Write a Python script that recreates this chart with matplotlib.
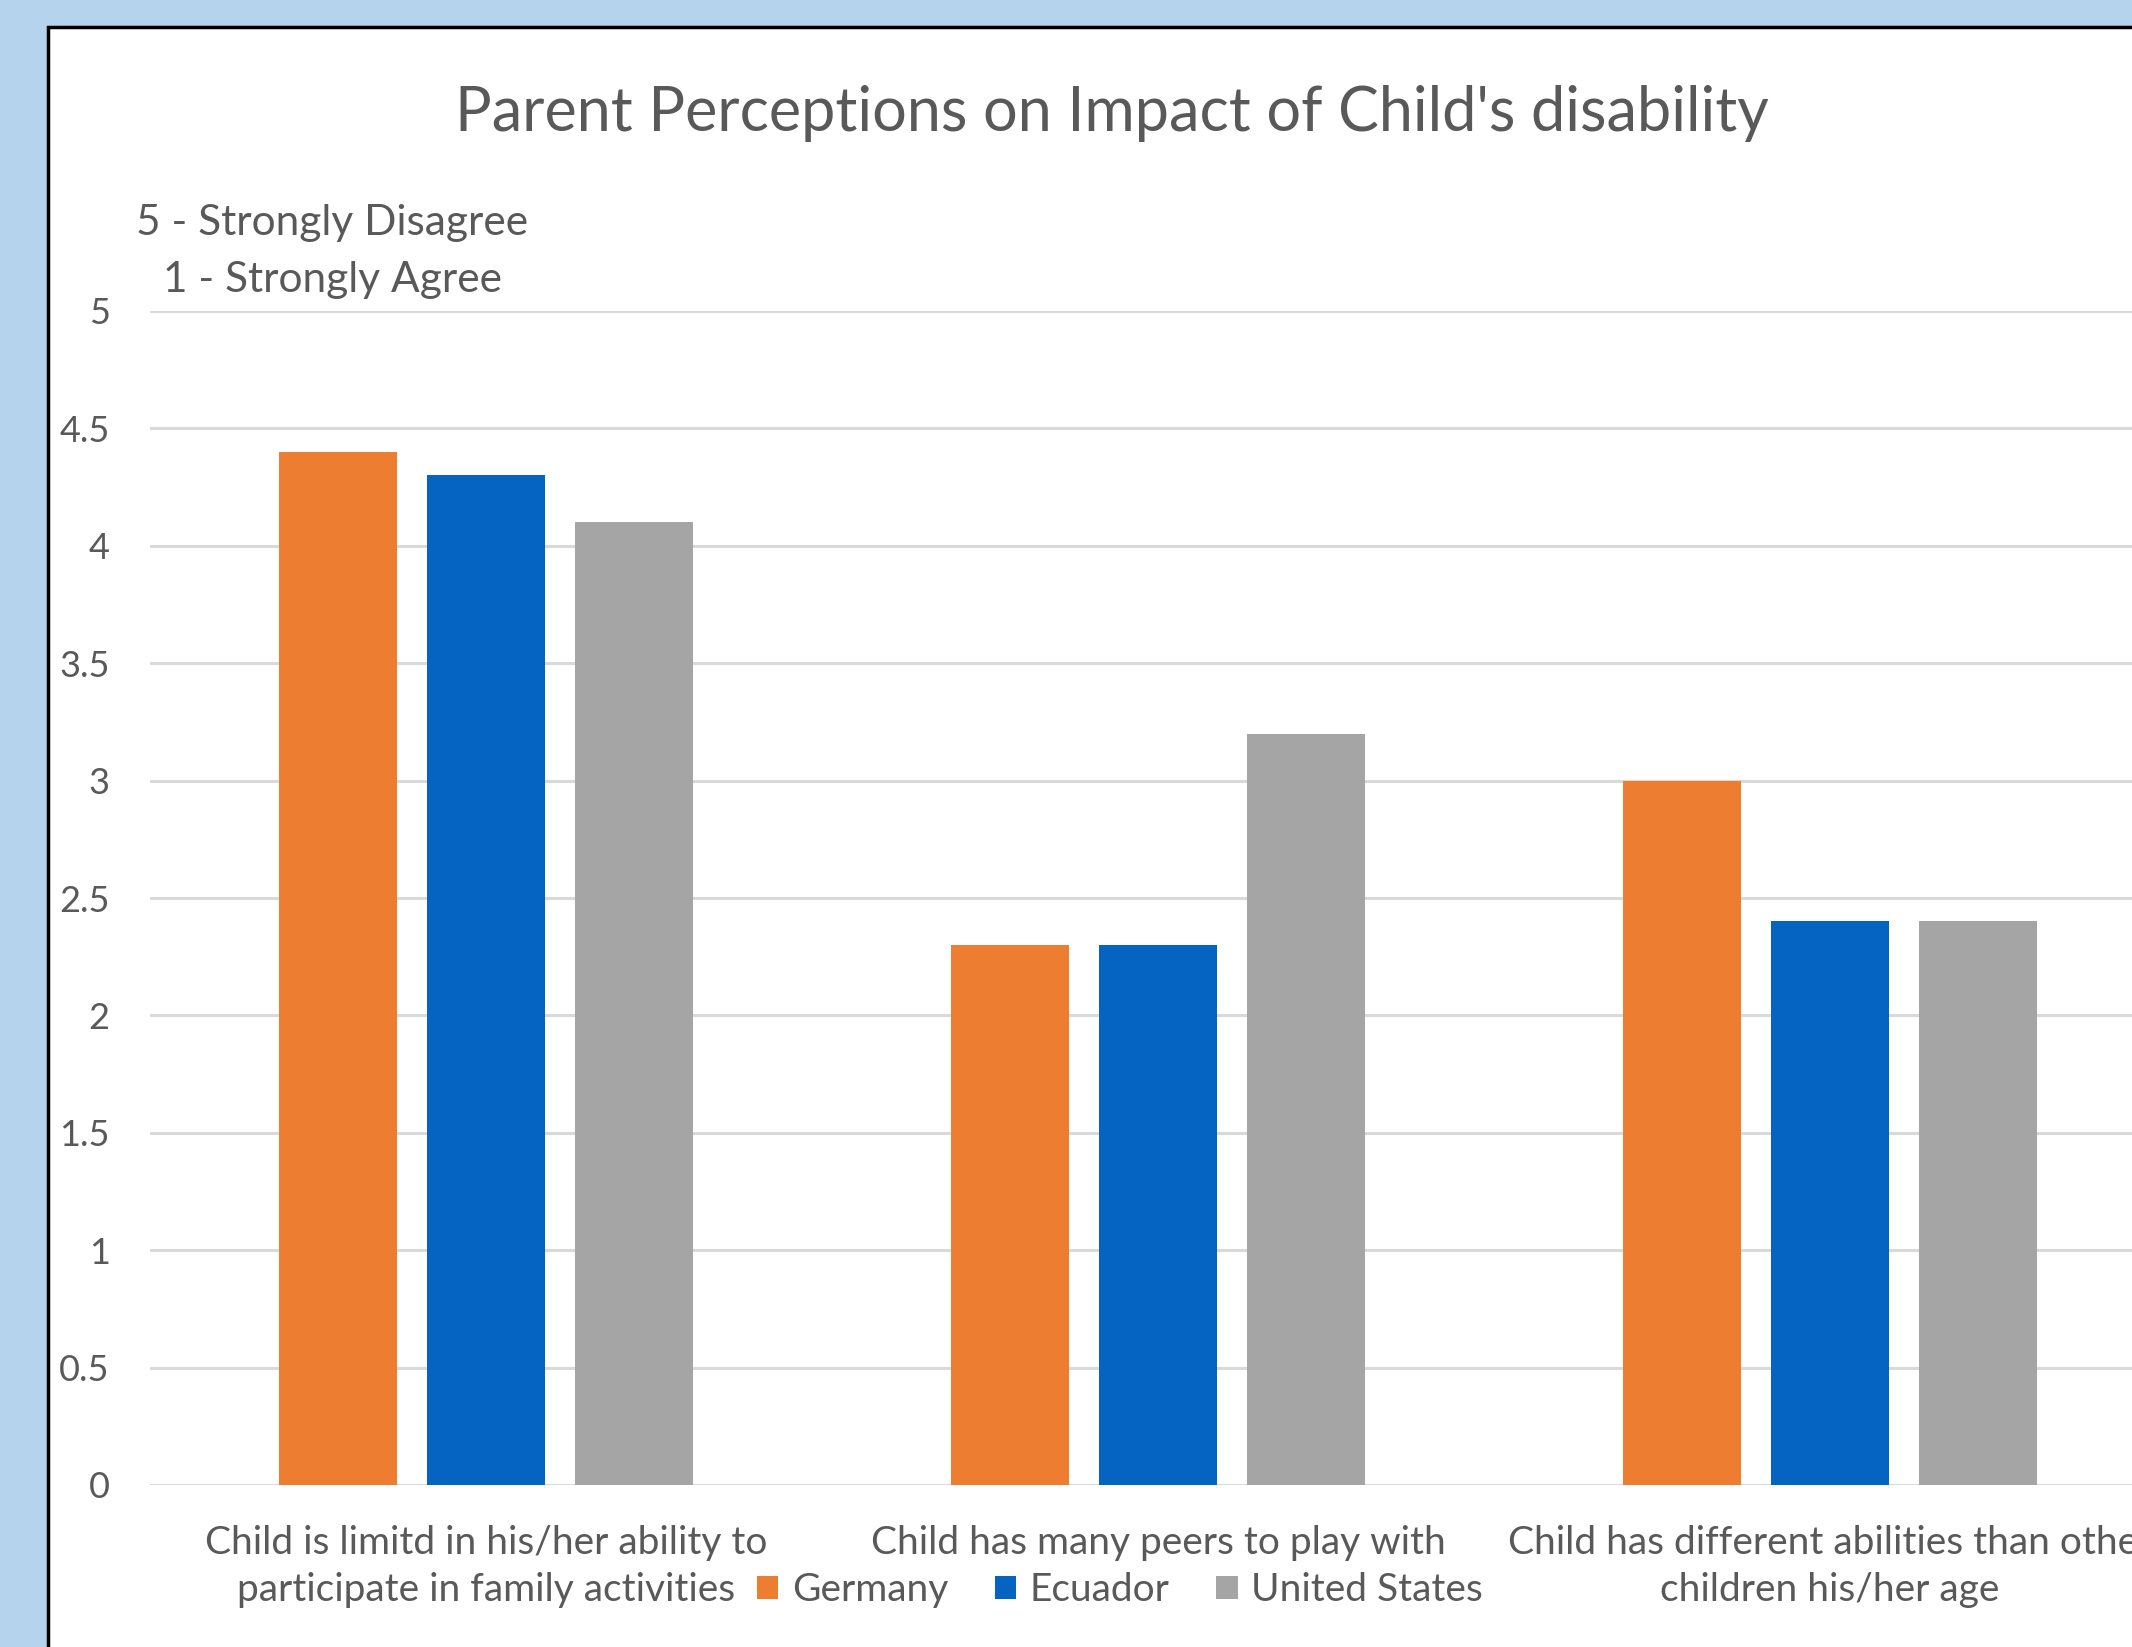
import numpy as np
import matplotlib.pyplot as plt
from matplotlib.patches import Rectangle, Patch

# dữ liệu
categories = [
    "Child is limitd in his/her ability to\nparticipate in family activities",
    "Child has many peers to play with",
    "Child has different abilities than other\nchildren his/her age",
]
countries = ["Germany", "Ecuador", "United States"]
germany = [4.4, 2.3, 3.0]
ecuador = [4.3, 2.3, 2.4]
united_states = [4.1, 3.2, 2.4]
colors = ["#ED7D31", "#0563C1", "#A5A5A5"]
yticks = [0, 0.5, 1, 1.5, 2, 2.5, 3, 3.5, 4, 4.5, 5]
ytick_labels = ["0", "0.5", "1", "1.5", "2", "2.5", "3", "3.5", "4", "4.5", "5"]

W, H = 2132, 1647
plt.rcParams['font.family'] = ['Lato', 'DejaVu Sans']
text_color = "#595959"

fig = plt.figure(figsize=(W / 100, H / 100), dpi=100)
fig.patch.set_facecolor("#B5D3EC")

# khung trắng của biểu đồ (bị cắt ở bên phải và bên dưới như ảnh gốc)
fig.patches.append(Rectangle((48 / W, -0.05), 1.2, 1 - 27 / H + 0.05,
                             transform=fig.transFigure, facecolor="white",
                             edgecolor="black", linewidth=2.5, zorder=-5))

ax = fig.add_axes([150 / W, (H - 1485) / H, 3 * 672 / W, (1485 - 311) / H])
ax.set_facecolor("none")

x = np.arange(len(categories))
width = 0.176
step = 0.22
for i, (vals, name) in enumerate(zip([germany, ecuador, united_states], countries)):
    ax.bar(x + (i - 1) * step, vals, width, color=colors[i], label=name, zorder=3)

ax.set_xlim(-0.5, 2.5)
ax.set_ylim(0, 5)
ax.set_yticks(yticks)
ax.set_yticklabels(ytick_labels)
ax.set_xticks(x)
ax.set_xticklabels(categories, linespacing=1.38)
ax.grid(axis="y", color="#D9D9D9", linewidth=2.2, zorder=0)
ax.set_axisbelow(True)
for s in ax.spines.values():
    s.set_visible(False)
ax.tick_params(axis="y", length=0, pad=29, labelsize=26, labelcolor=text_color)
ax.tick_params(axis="x", length=0, pad=29, labelsize=28, labelcolor=text_color)

# tiêu đề và chú thích thang điểm
fig.text(1112 / W, 1 - 113 / H, "Parent Perceptions on Impact of Child's disability",
         ha="center", va="center", fontsize=44, color=text_color)
fig.text(136 / W, 1 - 223 / H, "5 - Strongly Disagree", ha="left", va="center",
         fontsize=30.5, color=text_color)
fig.text(163 / W, 1 - 280 / H, "1 - Strongly Agree", ha="left", va="center",
         fontsize=30.5, color=text_color)

handles = [Patch(facecolor=c, edgecolor="none") for c in colors]
fig.legend(handles, countries, loc="center", bbox_to_anchor=(1120 / W, 1 - 1590 / H),
           ncol=3, frameon=False, fontsize=28, labelcolor=text_color,
           handlelength=0.55, handleheight=0.55, handletextpad=0.35, columnspacing=1.2)

fig.savefig("out.png", dpi=100, facecolor=fig.get_facecolor())
